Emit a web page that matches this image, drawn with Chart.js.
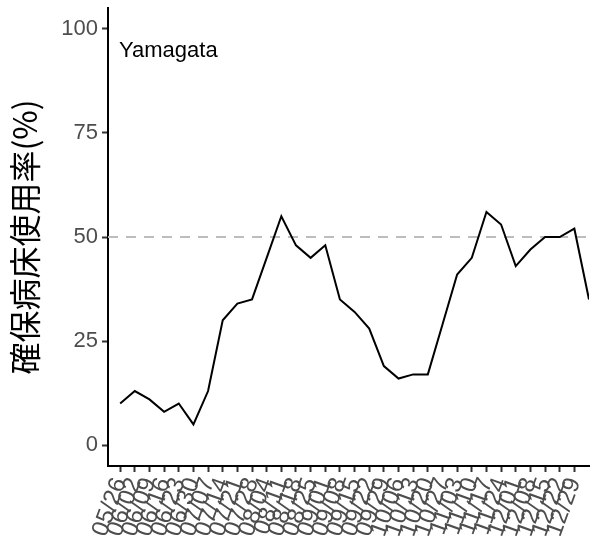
<!DOCTYPE html>
<html>
<head>
<meta charset="utf-8">
<script src="https://cdn.jsdelivr.net/npm/chart.js@4"></script>
<style>
  html, body { margin: 0; padding: 0; background: #fff; }
  #wrap { width: 594px; height: 545px; }
</style>
</head>
<body>
<div id="wrap"><canvas id="bed-chart"></canvas></div>
<script>
// 週ごとの日付 (データ点)
const dates = ['05/26','06/02','06/09','06/16','06/23','06/30','07/07','07/14','07/21','07/28',
  '08/04','08/11','08/18','08/25','09/01','09/08','09/15','09/22','09/29','10/06',
  '10/13','10/20','10/27','11/03','11/10','11/17','11/24','12/01','12/08','12/15',
  '12/22','12/29','01/05'];
// 確保病床使用率 (%)
const usage = [10,13,11,8,10,5,13,30,34,35,45,55,48,45,48,35,32,28,19,16,17,17,29,41,45,56,53,43,47,50,50,52,35];
// 目盛り
const yTicks = [0, 25, 50, 75, 100];
const xTickCount = 32;
const threshold = 50;
const prefName = 'Yamagata';

const xMin = 0.17, xMax = dates.length;

const labelPlugin = {
  id: 'prefLabel',
  afterDraw(chart) {
    const ctx = chart.ctx;
    const a = chart.chartArea;
    ctx.save();
    ctx.fillStyle = '#000';
    ctx.font = '22px "Liberation Sans", Arial, sans-serif';
    ctx.textBaseline = 'alphabetic';
    ctx.fillText(prefName, a.left + 11, a.top + 49);
    ctx.restore();
  }
};

new Chart(document.getElementById('bed-chart').getContext('2d'), {
  type: 'line',
  data: {
    datasets: [
      {
        data: usage.map((v, i) => ({ x: i + 1, y: v })),
        borderColor: '#000',
        borderWidth: 2,
        pointRadius: 0,
        tension: 0,
        fill: false,
      },
      {
        data: [{ x: xMin, y: threshold }, { x: xMax, y: threshold }],
        borderColor: '#bdbdbd',
        borderWidth: 2,
        borderDash: [10, 8],
        pointRadius: 0,
        fill: false,
      }
    ]
  },
  options: {
    responsive: true,
    maintainAspectRatio: false,
    animation: false,
    layout: { padding: { top: 8, right: 5, bottom: 0, left: 0 } },
    plugins: {
      legend: { display: false },
      tooltip: { enabled: false },
    },
    scales: {
      x: {
        type: 'linear',
        min: xMin,
        max: xMax,
        afterBuildTicks: (scale) => {
          scale.ticks = [];
          for (let i = 1; i <= xTickCount; i++) scale.ticks.push({ value: i });
        },
        afterFit: (scale) => {
          scale.height = 79;
          scale.paddingLeft = 0;
          scale.paddingRight = 0;
        },
        ticks: {
          autoSkip: false,
          minRotation: 70,
          maxRotation: 70,
          padding: 2,
          color: '#4d4d4d',
          font: { size: 24, family: '"Liberation Sans", Arial, sans-serif' },
          callback: (v) => dates[v - 1],
        },
        grid: {
          drawOnChartArea: false,
          drawTicks: true,
          tickLength: 6,
          tickWidth: 2,
          tickColor: '#333',
        },
        border: { color: '#000', width: 2 },
      },
      y: {
        min: -5,
        max: 105,
        afterBuildTicks: (scale) => {
          scale.ticks = yTicks.map(v => ({ value: v }));
        },
        afterFit: (scale) => {
          scale.width = 108;
          scale.paddingTop = 0;
          scale.paddingBottom = 0;
        },
        ticks: {
          padding: 4,
          color: '#4d4d4d',
          font: { size: 22, family: '"Liberation Sans", Arial, sans-serif' },
        },
        grid: {
          drawOnChartArea: false,
          drawTicks: true,
          tickLength: 6,
          tickWidth: 2,
          tickColor: '#333',
        },
        border: { color: '#000', width: 2 },
        title: {
          display: true,
          text: '確保病床使用率(%)',
          color: '#000',
          padding: { top: 6, bottom: 4 },
          font: { size: 32, family: '"Noto Sans CJK JP", sans-serif' },
        },
      },
    },
  },
  plugins: [labelPlugin],
});
</script>
</body>
</html>
